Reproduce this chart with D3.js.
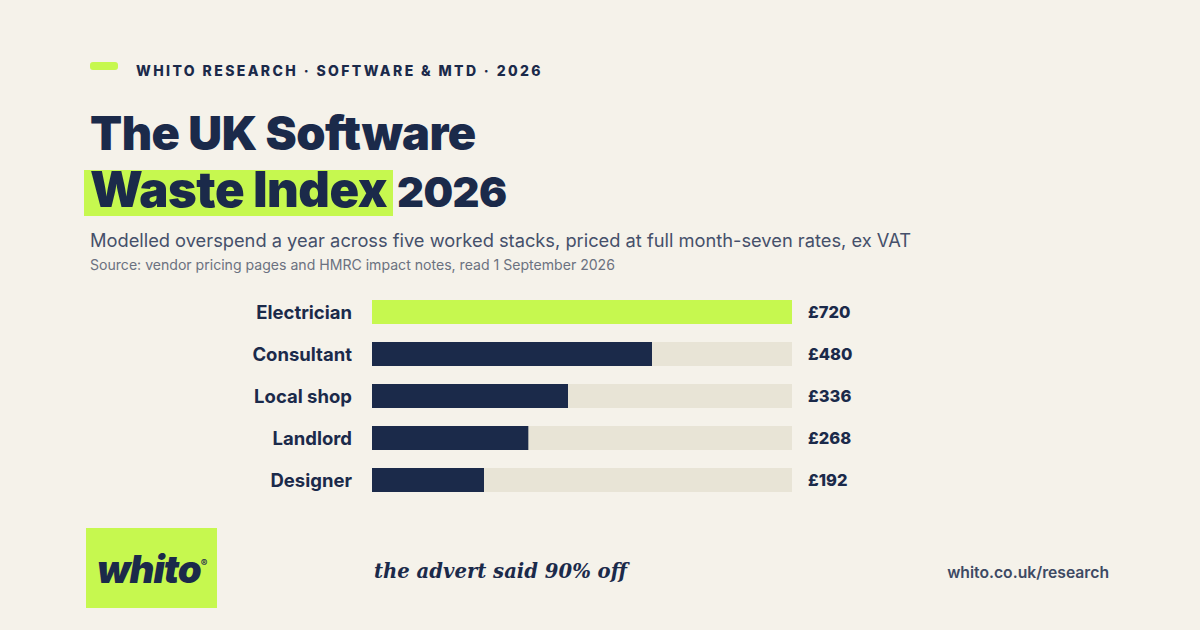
<!DOCTYPE html>
<html><head><meta charset="utf-8">
<script src="https://cdn.jsdelivr.net/npm/d3@7"></script>
<style>
html,body{margin:0;padding:0;background:#f5f2ea;}
svg{display:block;}
</style></head>
<body>
<svg id="chart" width="1200" height="630"></svg>
<script>
const categories = ["Electrician","Consultant","Local shop","Landlord","Designer"];
const values = [720,480,336,268,192];
const valueLabels = ["£720","£480","£336","£268","£192"];
const kicker = "WHITO RESEARCH · SOFTWARE & MTD · 2026";
const titleLine1 = "The UK Software";
const titleHighlight = "Waste Index";
const titleRest = "2026";
const subtitle = "Modelled overspend a year across five worked stacks, priced at full month-seven rates, ex VAT";
const source = "Source: vendor pricing pages and HMRC impact notes, read 1 September 2026";
const tagline = "the advert said 90% off";
const url = "whito.co.uk/research";

const NAVY = "#1b2a4a", GREEN = "#c6f84f", TRACK = "#e8e4d6";
const svg = d3.select("#chart");
svg.append("rect").attr("width",1200).attr("height",630).attr("fill","#f5f2ea");

const FONT = "Inter, 'Open Sans', sans-serif";

function fit(sel, target){
  const n = sel.node();
  const fs = parseFloat(sel.attr("font-size"));
  const w = n.getComputedTextLength();
  if (w>0) sel.attr("font-size", (fs*target/w).toFixed(2));
  return sel;
}

// kicker
svg.append("rect").attr("x",90).attr("y",62).attr("width",28).attr("height",8).attr("rx",3).attr("fill",GREEN);
const k = svg.append("text").attr("x",136).attr("y",76).attr("font-family",FONT).attr("font-weight",800)
  .attr("font-size",14).attr("letter-spacing","2.4px").attr("fill",NAVY).text(kicker);
fit(k, 407);

// title
const t1 = svg.append("text").attr("x",90).attr("y",150).attr("font-family",FONT).attr("font-weight",900)
  .attr("font-size",48).attr("fill",NAVY).attr("letter-spacing","-0.5px").text(titleLine1);
fit(t1, 386);
svg.append("rect").attr("x",84).attr("y",170).attr("width",309).attr("height",46).attr("fill",GREEN);
const t2 = svg.append("text").attr("x",90).attr("y",207).attr("font-family",FONT).attr("font-weight",900)
  .attr("font-size",48).attr("fill",NAVY).attr("letter-spacing","-0.5px").text(titleHighlight);
fit(t2, 297);
const t3 = svg.append("text").attr("x",397).attr("y",207).attr("font-family",FONT).attr("font-weight",900)
  .attr("font-size",48).attr("fill",NAVY).attr("letter-spacing","-0.5px").text(titleRest);
fit(t3, 110);

// subtitle & source
const st = svg.append("text").attr("x",90).attr("y",247).attr("font-family",FONT).attr("font-weight",400)
  .attr("font-size",18).attr("fill","#45506a").text(subtitle);
fit(st, 821);
const so = svg.append("text").attr("x",90).attr("y",270).attr("font-family",FONT).attr("font-weight",400)
  .attr("font-size",13).attr("fill","#6b7180").text(source);
fit(so, 525);

// bars
const x = d3.scaleLinear().domain([0, d3.max(values)]).range([372, 792]);
const yb = d3.scaleBand().domain(categories).range([300, 492]).paddingInner(18/42).paddingOuter(0);

const g = svg.append("g");
const rows = g.selectAll("g.row").data(categories.map((c,i)=>({c, v:values[i], l:valueLabels[i], i})))
  .join("g").attr("class","row");
rows.append("rect").attr("x",x(0)).attr("y",d=>yb(d.c)).attr("width",x(d3.max(values))-x(0))
  .attr("height",yb.bandwidth()).attr("fill",TRACK);
rows.append("rect").attr("x",x(0)).attr("y",d=>yb(d.c)).attr("width",d=>x(d.v)-x(0))
  .attr("height",yb.bandwidth()).attr("fill",d=>d.i===0?GREEN:NAVY);
rows.append("text").attr("x",352).attr("y",d=>yb(d.c)+yb.bandwidth()/2).attr("dy","0.36em")
  .attr("text-anchor","end").attr("font-family",FONT).attr("font-weight",700).attr("font-size",18.5)
  .attr("fill",NAVY).text(d=>d.c);
rows.append("text").attr("x",808).attr("y",d=>yb(d.c)+yb.bandwidth()/2).attr("dy","0.36em")
  .attr("font-family",FONT).attr("font-weight",800).attr("font-size",16.5)
  .attr("fill",NAVY).text(d=>d.l);

// logo
svg.append("rect").attr("x",86).attr("y",528).attr("width",131).attr("height",80).attr("fill",GREEN);
const lg = svg.append("text").attr("x",97).attr("y",583).attr("font-family",FONT).attr("font-weight",900)
  .attr("font-style","italic").attr("font-size",34).attr("letter-spacing","-1px").attr("fill",NAVY).text("whito");
fit(lg, 103);
svg.append("text").attr("x",204).attr("y",567).attr("text-anchor","middle").attr("font-family",FONT)
  .attr("font-weight",600).attr("font-size",10).attr("fill",NAVY).text("®");

// tagline
const tg = svg.append("text").attr("x",374).attr("y",578).attr("font-family","'DejaVu Serif', serif")
  .attr("font-style","italic").attr("font-weight",700).attr("font-size",24).attr("fill",NAVY).text(tagline);
fit(tg, 253);

// url
const ur = svg.append("text").attr("x",1109).attr("y",578).attr("text-anchor","end").attr("font-family",FONT)
  .attr("font-weight",600).attr("font-size",16).attr("fill","#3d4963").text(url);
fit(ur, 162);
</script>
</body></html>
